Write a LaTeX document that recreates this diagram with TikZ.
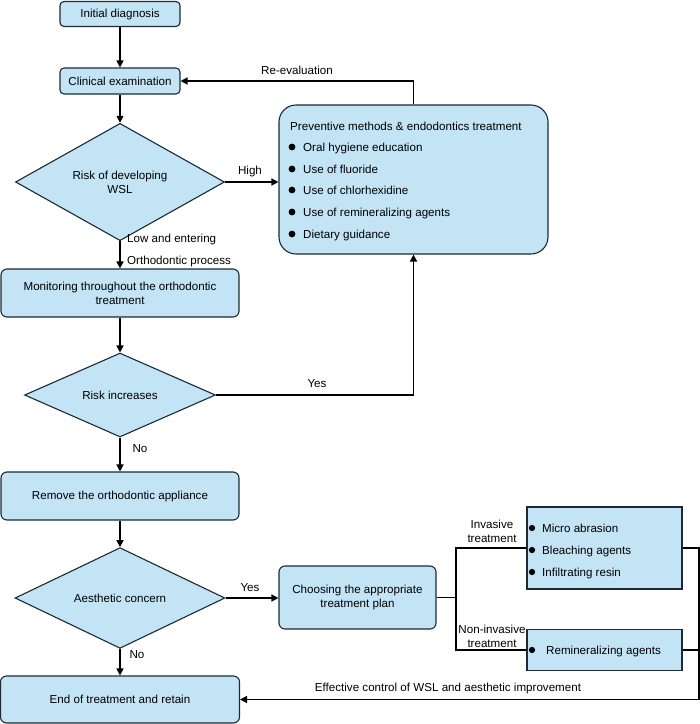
\documentclass[tikz,border=0pt]{standalone}
\usepackage{fontspec}
\setmainfont{Liberation Sans}
\usetikzlibrary{shapes.geometric,arrows.meta}
\definecolor{boxfill}{RGB}{194,228,245}
\definecolor{boxline}{RGB}{28,42,52}
\begin{document}
\begin{tikzpicture}[x=1pt,y=-1pt,
  every node/.style={font=\fontsize{11.6}{14}\selectfont},
  rbox/.style={draw=boxline,fill=boxfill,line width=1.1pt,rounded corners=6pt,inner sep=0pt,align=center},
  sbox/.style={draw=boxline,fill=boxfill,line width=1.1pt,inner sep=0pt},
  dbox/.style={diamond,draw=boxline,fill=boxfill,line width=1.1pt,inner sep=0pt,align=center},
  conn/.style={line width=1.5pt,black,line join=miter},
  arr/.style={conn,-{Triangle[length=7pt,width=7pt]}},
  lab/.style={inner sep=0pt,align=center},
  dot/.style={circle,fill=black,inner sep=0pt,minimum size=6.8pt},
  item/.style={inner sep=0pt,anchor=base west}]
\useasboundingbox (0,0) rectangle (700,724);

% boxes
\node[rbox,rounded corners=4pt,minimum width=120pt,minimum height=25pt] (init) at (120,14) {Initial diagnosis};
\node[rbox,rounded corners=4pt,minimum width=120pt,minimum height=26pt] (clin) at (120,81) {Clinical examination};
\node[dbox,minimum width=209pt,minimum height=96pt] (risk1) at (120,182) {Risk of developing\\WSL};
\node[rbox,rounded corners=17pt,minimum width=269pt,minimum height=149pt] (prev) at (413.5,179.5) {};
\node[rbox,minimum width=238pt,minimum height=48pt] (mon) at (120,293) {Monitoring throughout the orthodontic\\treatment};
\node[dbox,minimum width=191pt,minimum height=74pt] (risk2) at (120,395) {Risk increases};
\node[rbox,minimum width=238pt,minimum height=48pt] (remove) at (120,496) {Remove the orthodontic appliance};
\node[dbox,minimum width=210pt,minimum height=74pt] (aes) at (120,598) {Aesthetic concern};
\node[rbox,minimum width=157pt,minimum height=63pt] (choose) at (357.5,597.5) {Choosing the appropriate\\treatment plan};
\node[sbox,minimum width=155pt,minimum height=82pt] (inv) at (604.5,548) {};
\node[sbox,minimum width=155pt,minimum height=41pt] (noninv) at (604.5,650) {};
\node[rbox,minimum width=239pt,minimum height=47pt] (endb) at (120,699.5) {End of treatment and retain};

% preventive content
\node[item] (ptitle) at (290,130) {Preventive methods \& endodontics treatment};
\node[dot] (pd1) at (292,147) {};
\node[item] (p1) at (303,151) {Oral hygiene education};
\node[dot] (pd2) at (292,169) {};
\node[item] (p2) at (303,173) {Use of fluoride};
\node[dot] (pd3) at (292,190) {};
\node[item] (p3) at (303,194) {Use of chlorhexidine};
\node[dot] (pd4) at (292,212) {};
\node[item] (p4) at (303,216) {Use of remineralizing agents};
\node[dot] (pd5) at (292,234) {};
\node[item] (p5) at (303,238) {Dietary guidance};

% invasive content
\node[dot,minimum size=6.3pt] (id1) at (532,528) {};
\node[item] (i1) at (542,532) {Micro abrasion};
\node[dot,minimum size=6.3pt] (id2) at (532,550) {};
\node[item] (i2) at (542,554) {Bleaching agents};
\node[dot,minimum size=6.3pt] (id3) at (532,572) {};
\node[item] (i3) at (542,576) {Infiltrating resin};
\node[dot,minimum size=6.3pt] (nd1) at (532,650) {};
\node[item] (n1) at (546,654) {Remineralizing agents};

% labels
\node[lab] (lreeval) at (297,70) {Re-evaluation};
\node[lab] (lhigh) at (250,171) {High};
\node[item] (llow) at (127,242) {Low and entering};
\node[item] (lortho) at (127,264) {Orthodontic process};
\node[lab] (lyes1) at (317,384) {Yes};
\node[lab] (lno1) at (140,449) {No};
\node[lab] (lyes2) at (250,588) {Yes};
\node[lab] (lno2) at (137,655) {No};
\node[lab] (linv) at (492,531) {Invasive\\treatment};
\node[lab] (lnon) at (492,636) {Non-invasive\\treatment};
\node[lab] (leff) at (448,688) {Effective control of WSL and aesthetic improvement};

% connectors
\draw[arr] (init) -- (clin);
\draw[arr] (clin) -- (risk1);
\draw[arr] (risk1.east) -- (risk1.east -| prev.west);
\draw[arr] (prev.north) |- (clin.east);
\draw[arr] (risk1) -- (mon);
\draw[arr] (mon) -- (risk2);
\draw[arr] (risk2.east) -| (prev.south);
\draw[arr] (risk2) -- (remove);
\draw[arr] (remove) -- (aes);
\draw[arr] (aes.east) -- (aes.east -| choose.west);
\draw[arr] (aes) -- (endb);
\coordinate (br) at (456,597.5);
\draw[conn] (choose.east) -- (br);
\draw[conn] (inv.west) -| (br) |- (noninv.west);
\coordinate (rr) at (699,699.5);
\draw[conn] (noninv.east) -- (noninv.east -| rr);
\draw[arr] (inv.east) -| (rr) -- (endb.east);
\end{tikzpicture}
\end{document}
